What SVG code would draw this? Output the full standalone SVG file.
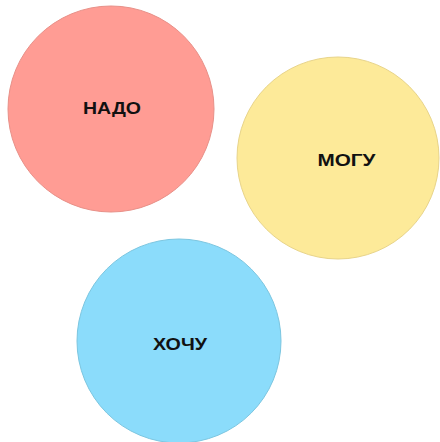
<svg xmlns="http://www.w3.org/2000/svg" width="440" height="442" viewBox="0 0 440 442">
<style>
.c{stroke-width:1}
.t{font-family:"Liberation Sans",Arial,sans-serif;font-weight:bold;font-size:17px;fill:#111;text-anchor:middle}
</style>
<rect width="440" height="442" fill="#fff"/>
<g id="connectors"></g>
<g id="nado">
<circle class="c" cx="111" cy="109" r="103" fill="#FF9C94" stroke="#E89088"/>
<text class="t" x="112" y="114" textLength="58" lengthAdjust="spacingAndGlyphs">НАДО</text>
</g>
<g id="mogu">
<circle class="c" cx="338" cy="158" r="101" fill="#FDEA99" stroke="#E8D48A"/>
<text class="t" x="346.5" y="166" textLength="58" lengthAdjust="spacingAndGlyphs">МОГУ</text>
</g>
<g id="hochu">
<circle class="c" cx="179" cy="341" r="102" fill="#8BDCFB" stroke="#7CC6E0"/>
<text class="t" x="180" y="350" textLength="54" lengthAdjust="spacingAndGlyphs">ХОЧУ</text>
</g>
</svg>
